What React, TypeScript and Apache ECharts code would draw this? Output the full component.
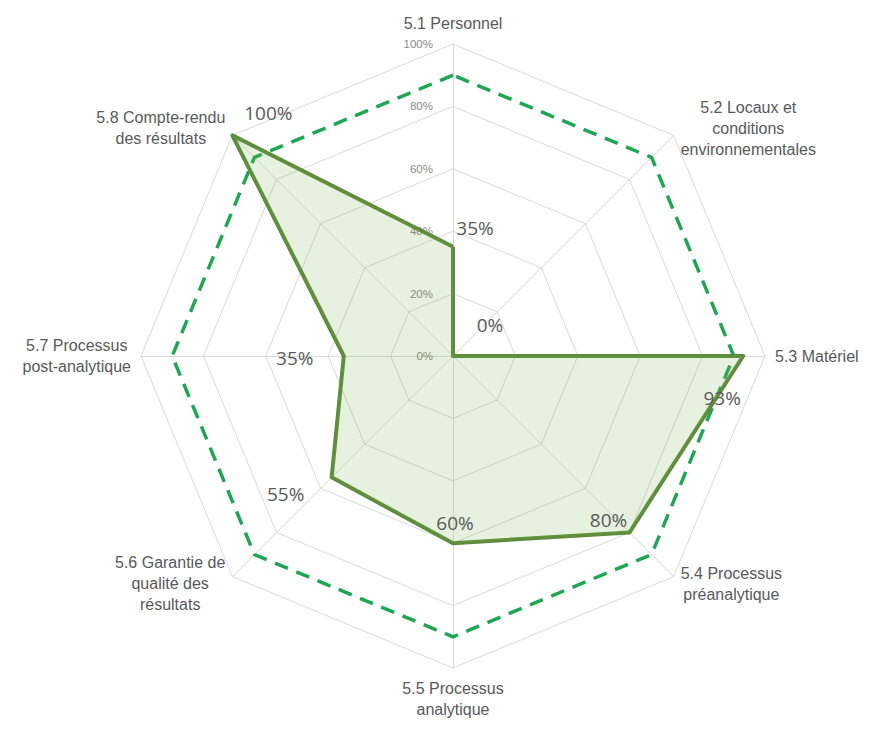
import React, { useEffect, useRef } from 'react';
import * as echarts from 'echarts';

const categories = [
  '5.1 Personnel',
  '5.2 Locaux et\nconditions\nenvironnementales',
  '5.3 Matériel',
  '5.4 Processus\npréanalytique',
  '5.5 Processus\nanalytique',
  '5.6 Garantie de\nqualité des\nrésultats',
  '5.7 Processus\npost-analytique',
  '5.8 Compte-rendu\ndes résultats',
];
const scores = [35, 0, 93, 80, 60, 55, 35, 100];
const target = [90, 90, 90, 90, 90, 90, 90, 90];
const axisMax = 100;
const splitCount = 5;

// label offsets (style) for each value label, in category order
const labelOffsets: number[][] = [
  [22, -19], [37, -31], [-21, 42], [-21, -12], [2, -20], [-46, 17], [-49, 2], [36, -22],
];

// ECharts radar places indicators counter-clockwise; reorder to draw clockwise
const order = [0, 7, 6, 5, 4, 3, 2, 1];
const reorder = <T,>(arr: T[]): T[] => order.map((i) => arr[i]);

const nameFont = '"Liberation Sans Narrow", "Arial Narrow", "Liberation Sans", Arial, sans-serif';

export default function App() {
  const ref = useRef<HTMLDivElement>(null);
  useEffect(() => {
    document.body.style.margin = '0';
    const chart = echarts.init(ref.current!, null, { renderer: 'svg' });
    const indicators = reorder(categories).map((name, k) => ({
      name,
      min: 0,
      max: axisMax,
      ...(k === 0
        ? {
            axisLabel: {
              show: true,
              fontSize: 11.5,
              color: '#8a8a8a',
              margin: 20,
              fontFamily: 'Arial, "Liberation Sans", sans-serif',
              formatter: '{value}%',
              showMinLabel: true,
              showMaxLabel: true,
            },
          }
        : {}),
    }));
    chart.setOption({
      animation: false,
      radar: {
        center: [453, 356],
        radius: 312,
        startAngle: 90,
        splitNumber: splitCount,
        shape: 'polygon',
        indicator: indicators,
        nameGap: 10,
        axisName: {
          color: '#595959',
          fontSize: 16,
          fontFamily: nameFont,
          formatter: (name: string) =>
            name
              .split('\n')
              .map((l) => `{c|${l}}`)
              .join('\n'),
          rich: {
            c: {
              align: 'center',
              fontSize: 16,
              fontFamily: nameFont,
              color: '#595959',
              lineHeight: 21,
            },
          },
        },
        axisLabel: { show: false, color: '#8a8a8a' },
        axisLine: { lineStyle: { color: '#d9d9d9', width: 1 } },
        splitLine: { lineStyle: { color: '#d9d9d9', width: 1 } },
        splitArea: { show: false },
        axisTick: { show: false },
      },
      series: [
        {
          type: 'radar',
          z: 2,
          symbol: 'none',
          lineStyle: { color: '#1fa653', width: 3.5, type: [14, 9] },
          data: [{ value: reorder(target), name: 'Objectif' }],
        },
        {
          type: 'radar',
          z: 3,
          symbol: 'none',
          lineStyle: { color: '#5e8c3c', width: 4 },
          areaStyle: { color: 'rgba(112,173,71,0.25)' },
          data: [{ value: reorder(scores), name: 'Score' }],
        },
        {
          type: 'radar',
          z: 4,
          symbol: 'circle',
          symbolSize: 1,
          itemStyle: { color: 'rgba(0,0,0,0)' },
          lineStyle: { width: 0, opacity: 0 },
          label: {
            show: true,
            position: 'inside',
            fontSize: 19,
            color: '#595959',
            fontFamily: '"Open Sans", "Noto Sans", sans-serif',
            formatter: (p: any) => {
              const v = Number(p.value);
              return isNaN(v) ? '' : `${v}%`;
            },
          },
          data: scores.map((s, i) => ({
            value: reorder(scores.map((x, j) => (j === i ? x : '-'))),
            label: { offset: labelOffsets[i] },
          })),
        },
      ],
    });
    return () => chart.dispose();
  }, []);
  return <div ref={ref} style={{ width: 873, height: 731 }} />;
}
